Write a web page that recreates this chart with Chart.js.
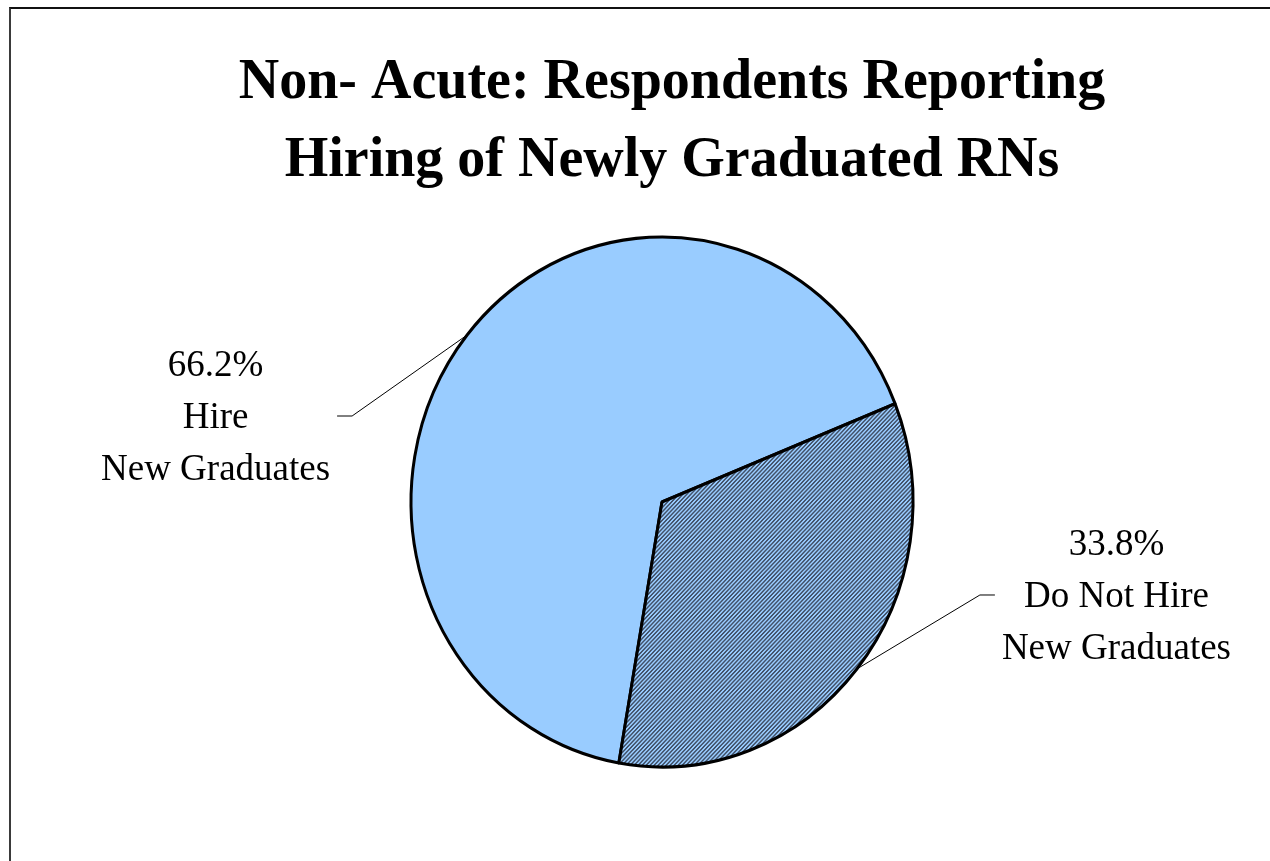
<!DOCTYPE html>
<html>
<head>
<meta charset="utf-8">
<script src="https://cdn.jsdelivr.net/npm/chart.js@4.4.1/dist/chart.umd.min.js"></script>
<style>
  html, body { margin: 0; padding: 0; background: #ffffff; overflow: hidden; }
  #wrap { position: relative; width: 1270px; height: 861px; }
  #frame { position: absolute; left: 9px; top: 7px; width: 1400px; height: 1000px;
           border-left: 2px solid #3a3a3a; border-top: 2px solid #111; box-sizing: border-box; }
  canvas { position: absolute; left: 0; top: 0; }
</style>
</head>
<body>
<div id="wrap">
  <div id="frame"></div>
  <canvas id="c" width="1270" height="861"></canvas>
</div>
<script>
// ---- data ----
const titleLines = ["Non- Acute: Respondents Reporting", "Hiring of Newly Graduated RNs"];
const categories = ["Hire New Graduates", "Do Not Hire New Graduates"];
const values = [66.2, 33.8];
const labelLines = [
  ["66.2%", "Hire", "New Graduates"],
  ["33.8%", "Do Not Hire", "New Graduates"]
];

// ---- hatch pattern ----
function makeHatch() {
  const t = document.createElement('canvas');
  t.width = 4; t.height = 4;
  const g = t.getContext('2d');
  for (let x = 0; x < 4; x++) {
    for (let y = 0; y < 4; y++) {
      g.fillStyle = ((x + y) % 4 < 2) ? 'rgb(66,82,106)' : '#99ccff';
      g.fillRect(x, y, 1, 1);
    }
  }
  return g.createPattern(t, 'repeat');
}

const yStretch = 265 / 251;

const ellipsePlugin = {
  id: 'ellipse',
  beforeDatasetsDraw(chart) {
    const a = chart.getDatasetMeta(0).data[0];
    const ctx = chart.ctx;
    ctx.save();
    ctx.translate(a.x, a.y);
    ctx.scale(1, yStretch);
    ctx.translate(-a.x, -a.y);
  },
  afterDatasetsDraw(chart) {
    chart.ctx.restore();
  }
};

const labelPlugin = {
  id: 'sideLabels',
  afterDraw(chart, args, opts) {
    const ctx = chart.ctx;
    const meta = chart.getDatasetMeta(0);
    ctx.save();
    // title
    ctx.fillStyle = '#000';
    ctx.font = 'bold 56px "Liberation Serif", "Times New Roman", serif';
    ctx.textAlign = 'center';
    ctx.textBaseline = 'alphabetic';
    titleLines.forEach((t, i) => ctx.fillText(t, opts.titleX, opts.titleY + i * opts.titleGap));

    ctx.font = '37px "Liberation Serif", "Times New Roman", serif';
    meta.data.forEach((arc, i) => {
      const mid = (arc.startAngle + arc.endAngle) / 2;
      const R = arc.outerRadius;
      const ex = arc.x + R * Math.cos(mid);
      const ey = arc.y + R * Math.sin(mid) * yStretch;
      const off = opts.offsets[i];
      const bx = ex + off[0], by = ey + off[1];
      const dir = off[0] < 0 ? -1 : 1;
      const tx = bx + dir * 15;
      ctx.strokeStyle = '#000';
      ctx.lineWidth = 1;
      ctx.beginPath();
      ctx.moveTo(ex, ey);
      ctx.lineTo(bx, by);
      ctx.lineTo(tx, by);
      ctx.stroke();
      const lines = labelLines[i];
      const w = Math.max(...lines.map(l => ctx.measureText(l).width));
      const cx = dir < 0 ? tx - 7 - w / 2 : tx + 7 + w / 2;
      ctx.textAlign = 'center';
      ctx.textBaseline = 'alphabetic';
      lines.forEach((l, j) => ctx.fillText(l, cx, by + 12 + (j - 1) * opts.lineGap));
    });
    ctx.restore();
  }
};

new Chart(document.getElementById('c'), {
  type: 'pie',
  data: {
    labels: categories,
    datasets: [{
      data: values,
      backgroundColor: ['#99ccff', makeHatch()],
      borderColor: '#000',
      borderWidth: 3,
      radius: 251,
      hoverOffset: 0
    }]
  },
  options: {
    responsive: false,
    devicePixelRatio: 1,
    animation: false,
    events: [],
    rotation: -170.1,
    layout: { padding: { left: 262, right: 208, top: 250, bottom: 107 } },
    plugins: {
      legend: { display: false },
      tooltip: { enabled: false },
      title: { display: false },
      sideLabels: {
        titleX: 672, titleY: 98, titleGap: 78,
        lineGap: 52,
        offsets: [[-115, 81], [123, -74]]
      }
    }
  },
  plugins: [ellipsePlugin, labelPlugin]
});
</script>
</body>
</html>
